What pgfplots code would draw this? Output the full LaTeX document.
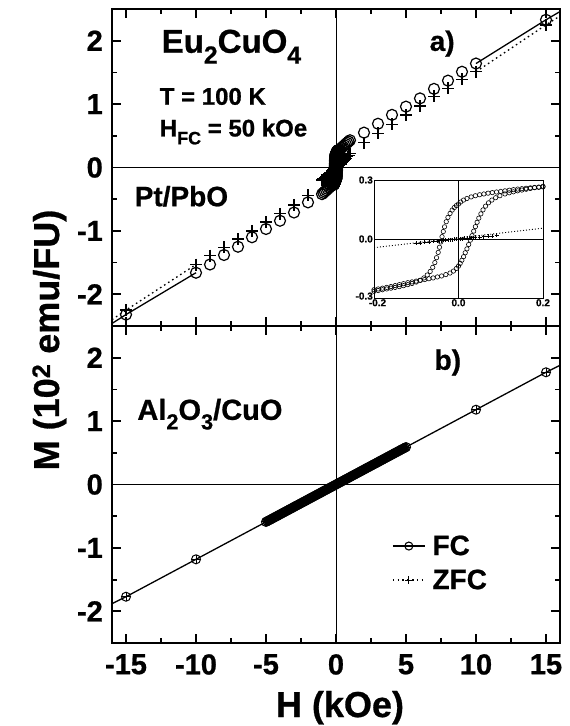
\documentclass[border=0pt]{standalone}
\usepackage{fontspec}
\setmainfont{Liberation Sans}[BoldFeatures={FakeBold=0.8}]
\usepackage{pgfplots}
\usepackage{pgfplotstable}
\pgfplotsset{compat=1.18}

\newcommand{\fs}[1]{\fontsize{#1}{#1}\selectfont\bfseries}
\newcommand{\sub}[1]{\raisebox{-0.33em}{\scalebox{0.75}{#1}}}

% Panel a: Pt/PbO, field-cooled (FC) and zero-field-cooled (ZFC) branches
\pgfplotstableread{
H M
-15 -2.32
-10 -1.66
-9 -1.53
-8 -1.38
-7 -1.25
-6 -1.10
-5 -0.97
-4 -0.84
-3 -0.71
-2 -0.55
-1 -0.42
-0.9 -0.40
-0.8 -0.38
-0.7 -0.36
-0.6 -0.34
-0.5 -0.32
-0.4 -0.30
-0.3 -0.28
0.3 0.29
0.4 0.31
0.5 0.33
0.6 0.35
0.7 0.37
0.8 0.39
0.9 0.41
1 0.43
2 0.55
3 0.69
4 0.83
5 0.96
6 1.09
7 1.24
8 1.37
9 1.51
10 1.64
15 2.33
}\fcA

\pgfplotstableread{
H M
-15 -2.25
-10 -1.53
-9 -1.39
-8 -1.26
-7 -1.13
-6 -1.00
-5 -0.86
-4 -0.73
-3 -0.59
-2 -0.44
-1 -0.20
-0.9 -0.18
-0.8 -0.16
-0.7 -0.14
-0.6 -0.12
-0.5 -0.10
-0.4 -0.08
-0.3 -0.06
-0.2 -0.04
0.2 0.04
0.3 0.06
0.4 0.08
0.5 0.10
0.6 0.12
0.7 0.14
0.8 0.17
0.9 0.19
1 0.22
2 0.39
3 0.54
4 0.68
5 0.83
6 0.97
7 1.12
8 1.25
9 1.39
10 1.51
15 2.25
}\zfcA

% Low-field FC hysteresis loop (descending and ascending field)
\pgfplotstableread{
H M
0.200 0.265
0.190 0.263
0.180 0.262
0.170 0.260
0.160 0.258
0.150 0.256
0.140 0.254
0.130 0.251
0.120 0.248
0.110 0.245
0.100 0.242
0.090 0.239
0.080 0.236
0.070 0.233
0.060 0.229
0.050 0.225
0.040 0.220
0.030 0.214
0.020 0.206
0.012 0.198
0.005 0.188
0.000 0.178
-0.005 0.170
-0.010 0.160
-0.015 0.147
-0.020 0.130
-0.025 0.110
-0.029 0.088
-0.033 0.062
-0.036 0.038
-0.039 0.012
-0.042 -0.015
-0.045 -0.042
-0.048 -0.068
-0.052 -0.095
-0.056 -0.120
-0.061 -0.144
-0.067 -0.165
-0.074 -0.183
-0.082 -0.198
-0.091 -0.210
-0.100 -0.219
-0.110 -0.226
-0.120 -0.232
-0.130 -0.237
-0.140 -0.242
-0.150 -0.246
-0.160 -0.250
-0.170 -0.254
-0.180 -0.258
-0.190 -0.262
-0.200 -0.266
}\loopdown

\pgfplotstableread{
H M
-0.200 -0.258
-0.190 -0.254
-0.180 -0.250
-0.170 -0.246
-0.160 -0.242
-0.150 -0.237
-0.140 -0.232
-0.130 -0.227
-0.120 -0.222
-0.110 -0.218
-0.100 -0.214
-0.090 -0.210
-0.080 -0.206
-0.070 -0.202
-0.060 -0.198
-0.050 -0.193
-0.040 -0.188
-0.030 -0.181
-0.020 -0.173
-0.012 -0.163
-0.005 -0.150
0.000 -0.138
0.004 -0.124
0.008 -0.108
0.012 -0.090
0.016 -0.070
0.020 -0.050
0.024 -0.028
0.028 -0.006
0.032 0.017
0.036 0.040
0.040 0.063
0.044 0.085
0.048 0.106
0.053 0.128
0.058 0.148
0.064 0.167
0.071 0.184
0.079 0.198
0.088 0.210
0.098 0.220
0.110 0.229
0.120 0.235
0.130 0.240
0.140 0.245
0.150 0.249
0.160 0.253
0.170 0.257
0.180 0.261
0.190 0.264
0.200 0.268
}\loopup

% Low-field ZFC points
\pgfplotstableread{
H M
-0.100 -0.022
-0.090 -0.020
-0.080 -0.016
-0.070 -0.015
-0.060 -0.012
-0.050 -0.010
-0.045 -0.009
-0.040 -0.008
-0.035 -0.006
-0.030 -0.006
-0.025 -0.004
-0.020 -0.004
-0.015 -0.003
-0.010 -0.002
-0.005 -0.001
0.000 0.000
0.005 0.001
0.010 0.002
0.015 0.003
0.020 0.004
0.025 0.005
0.030 0.006
0.035 0.007
0.040 0.008
0.050 0.010
0.060 0.012
0.070 0.014
0.080 0.016
0.090 0.018
}\zfcLoop

% Panel b: Al2O3/CuO (FC and ZFC coincide)
\pgfplotstableread{
H M
-15 -1.77
-10 -1.18
10 1.18
15 1.77
}\bOuter

\pgfplotstableread{
H M
-5.0 -0.590
-4.9 -0.578
-4.8 -0.566
-4.7 -0.555
-4.6 -0.543
-4.5 -0.531
-4.4 -0.519
-4.3 -0.507
-4.2 -0.496
-4.1 -0.484
-4.0 -0.472
-3.9 -0.460
-3.8 -0.448
-3.7 -0.437
-3.6 -0.425
-3.5 -0.413
-3.4 -0.401
-3.3 -0.389
-3.2 -0.378
-3.1 -0.366
-3.0 -0.354
-2.9 -0.342
-2.8 -0.330
-2.7 -0.319
-2.6 -0.307
-2.5 -0.295
-2.4 -0.283
-2.3 -0.271
-2.2 -0.260
-2.1 -0.248
-2.0 -0.236
-1.9 -0.224
-1.8 -0.212
-1.7 -0.201
-1.6 -0.189
-1.5 -0.177
-1.4 -0.165
-1.3 -0.153
-1.2 -0.142
-1.1 -0.130
-1.0 -0.118
-0.9 -0.106
-0.8 -0.094
-0.7 -0.083
-0.6 -0.071
-0.5 -0.059
-0.4 -0.047
-0.3 -0.035
-0.2 -0.024
-0.1 -0.012
0.0 0.000
0.1 0.012
0.2 0.024
0.3 0.035
0.4 0.047
0.5 0.059
0.6 0.071
0.7 0.083
0.8 0.094
0.9 0.106
1.0 0.118
1.1 0.130
1.2 0.142
1.3 0.153
1.4 0.165
1.5 0.177
1.6 0.189
1.7 0.201
1.8 0.212
1.9 0.224
2.0 0.236
2.1 0.248
2.2 0.260
2.3 0.271
2.4 0.283
2.5 0.295
2.6 0.307
2.7 0.319
2.8 0.330
2.9 0.342
3.0 0.354
3.1 0.366
3.2 0.378
3.3 0.389
3.4 0.401
3.5 0.413
3.6 0.425
3.7 0.437
3.8 0.448
3.9 0.460
4.0 0.472
4.1 0.484
4.2 0.496
4.3 0.507
4.4 0.519
4.5 0.531
4.6 0.543
4.7 0.555
4.8 0.566
4.9 0.578
5.0 0.590
}\bDense

\pgfplotsset{
  panel/.style={
    width=448pt, height=317pt, scale only axis,
    xmin=-16, xmax=16, ymin=-2.5, ymax=2.5,
    axis line style={line width=2pt},
    tick align=inside,
    xtick={-15,-10,-5,0,5,10,15},
    minor xtick={-12.5,-7.5,-2.5,2.5,7.5,12.5},
    ytick={-2,-1,0,1,2},
    minor ytick={-1.5,-0.5,0.5,1.5},
    yticklabels={-2,-1,0,1,2},
    major tick length=9pt, minor tick length=5pt,
    tick style={line width=1.8pt, black},
    tick label style={font=\fs{29}},
    yticklabel style={inner sep=0pt, xshift=-9pt},
    xticklabel style={inner sep=0pt, yshift=-11pt},
  },
  zfcdots/.style={line width=1.3pt, dash pattern=on 1.6pt off 3.2pt},
}

\begin{document}
\begin{tikzpicture}
\path[use as bounding box] (-112pt,9pt) rectangle (458pt,-717pt);

% ---------- panel a ----------
\begin{axis}[panel, at={(0pt,0pt)}, anchor=north west, xticklabels={}]
  \draw[line width=0.8pt] (axis cs:-16,0) -- (axis cs:16,0);
  \draw[line width=0.8pt] (axis cs:0,-2.5) -- (axis cs:0,2.5);
  \addplot[line width=1.3pt] coordinates {(-16,-2.46) (-15,-2.32) (-10,-1.66)};
  \addplot[line width=1.3pt] coordinates {(10,1.64) (15,2.33) (16,2.46)};
  \addplot[zfcdots] coordinates {(-16,-2.40) (-15,-2.25) (-10,-1.53)};
  \addplot[zfcdots] coordinates {(10,1.51) (15,2.25) (16,2.39)};
  \addplot[only marks, mark=o, mark size=5.5pt, line width=1.2pt] table {\fcA};
  \addplot[only marks, mark=o, mark size=5.5pt, line width=2.4pt] table {\loopdown};
  \addplot[only marks, mark=o, mark size=5.5pt, line width=2.4pt] table {\loopup};
  \addplot[only marks, mark=+, mark size=6pt, line width=1.4pt] table {\zfcA};
  \addplot[only marks, mark=+, mark size=6pt, line width=1.4pt] table {\zfcLoop};
  \node[anchor=base west, inner sep=0pt, font=\fs{33}] at (axis cs:-12.46,1.81) {Eu\sub{2}CuO\sub{4}};
  \node[anchor=base west, inner sep=0pt, font=\fs{24}] at (axis cs:-12.6,0.99) {T = 100 K};
  \node[anchor=base west, inner sep=0pt, font=\fs{24}] at (axis cs:-12.6,0.49) {H\sub{FC} = 50 kOe};
  \node[anchor=base west, inner sep=0pt, font=\fs{28}] at (axis cs:-14.39,-0.61) {Pt/PbO};
  \node[anchor=base west, inner sep=0pt, font=\fs{28}] at (axis cs:6.68,1.84) {a)};
\end{axis}

% ---------- inset: low-field loop ----------
\begin{axis}[
  at={(262pt,-289pt)}, anchor=south west,
  width=169pt, height=118pt, scale only axis,
  xmin=-0.2, xmax=0.2, ymin=-0.3, ymax=0.3,
  axis line style={line width=0.8pt},
  xtick={-0.2,0,0.2}, xticklabels={\hspace*{7pt}-0.2,0.0,0.2},
  ytick={-0.3,0,0.3}, yticklabels={\raisebox{4pt}{-0.3},0.0,0.3},
  major tick length=0pt,
  tick label style={font=\fs{10}, inner sep=1pt},
]
  \draw[line width=0.6pt] (axis cs:-0.2,0) -- (axis cs:0.2,0);
  \draw[line width=0.6pt] (axis cs:0,-0.3) -- (axis cs:0,0.3);
  \addplot[line width=0.9pt, dash pattern=on 1pt off 2pt] coordinates {(-0.2,-0.044) (0.2,0.055)};
  \addplot[only marks, mark=o, mark size=2.2pt, line width=0.6pt] table {\loopdown};
  \addplot[only marks, mark=o, mark size=2.2pt, line width=0.6pt] table {\loopup};
  \addplot[only marks, mark=+, mark size=2pt, line width=0.7pt] table {\zfcLoop};
\end{axis}

% ---------- panel b ----------
\begin{axis}[panel, at={(0pt,-317pt)}, anchor=north west,
  xticklabels={-15,-10,-5,0,5,10,15},
  legend style={draw=none, fill=none, inner sep=0pt, font=\fs{28},
    at={(axis cs:4.0,-0.77)}, anchor=north west,
    nodes={inner sep=2pt}, row sep=9pt, column sep=5pt},
  legend cell align=left,
  legend image code/.code={\draw[mark repeat=2, mark phase=2, #1]
    plot coordinates {(0pt,0pt) (16pt,0pt) (32pt,0pt)};},
]
  \addlegendimage{line width=1.1pt, mark=o, mark size=4pt, mark options={solid, fill=white}}
  \addlegendentry{FC}
  \addlegendimage{zfcdots, mark=+, mark size=4pt, mark options={solid, line width=1.1pt}}
  \addlegendentry{ZFC}
  \draw[line width=0.8pt] (axis cs:-16,0) -- (axis cs:16,0);
  \draw[line width=0.8pt] (axis cs:0,-2.5) -- (axis cs:0,2.5);
  \addplot[line width=1.3pt, forget plot] coordinates {(-16,-1.88) (-15,-1.77) (-10,-1.18) (10,1.18) (15,1.77) (16,1.88)};
  \addplot[only marks, mark=o, mark size=4.5pt, line width=1.1pt, forget plot] table {\bDense};
  \addplot[only marks, mark=+, mark size=4.5pt, line width=1.1pt, forget plot] table {\bDense};
  \addplot[only marks, mark=o, mark size=4.5pt, line width=1pt, mark options={fill=white}, forget plot] table {\bOuter};
  \addplot[only marks, mark=+, mark size=4.5pt, line width=1pt, forget plot] table {\bOuter};
  \node[anchor=base west, inner sep=0pt, font=\fs{28}] at (axis cs:7.03,1.81) {b)};
  \node[anchor=base west, inner sep=0pt, font=\fs{29}] at (axis cs:-14.2,1.02) {Al\sub{2}O\sub{3}/CuO};
\end{axis}

% shared axis titles
\node[rotate=90, anchor=base, inner sep=0pt, font=\fs{36}] at (-53pt,-331pt) {M (10\textsuperscript{2} emu/FU)};
\node[anchor=base, inner sep=0pt, font=\fs{36}] at (228pt,-708pt) {H (kOe)};
\end{tikzpicture}
\end{document}
